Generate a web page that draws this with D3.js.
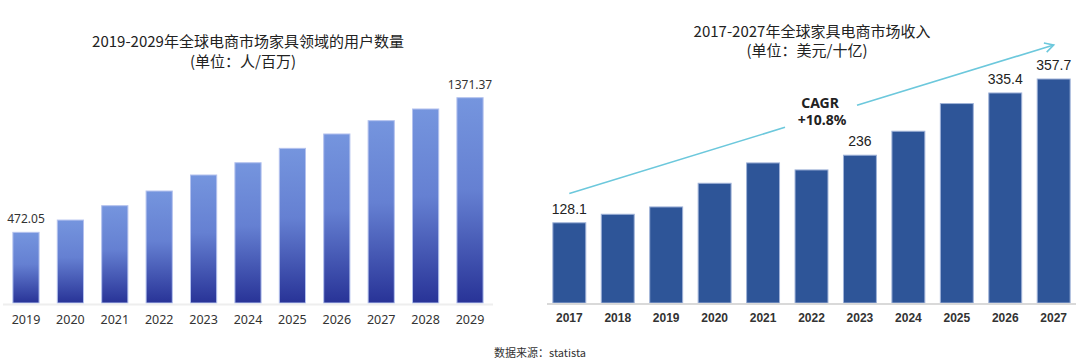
<!DOCTYPE html>
<html>
<head>
<meta charset="utf-8">
<script src="https://cdn.jsdelivr.net/npm/d3@7"></script>
<style>
  body { margin: 0; background: #fff; }
  svg { display: block; }
</style>
</head>
<body>
<div id="chart"></div>
<script>
// left chart: users (million)
const userYears = ["2019","2020","2021","2022","2023","2024","2025","2026","2027","2028","2029"];
const userValues = [472.05, 554, 650, 748, 855, 937, 1033, 1129, 1218, 1296, 1371.37];
const userLabeled = ["2019", "2029"];

// right chart: revenue (billion USD)
const revYears = ["2017","2018","2019","2020","2021","2022","2023","2024","2025","2026","2027"];
const revValues = [128.1, 141.7, 153.4, 191.2, 223.7, 212.5, 236, 274.3, 318.5, 335.4, 357.7];
const revLabeled = ["2017", "2023", "2026", "2027"];

// CAGR arrow, in data units (year, value)
const cagrArrow = [["2017", 175], ["2027", 412]];
const cagrText = ["CAGR", "+10.8%"];

const W = 1080, H = 362;
const svg = d3.select("#chart").append("svg")
    .attr("width", W).attr("height", H);

const cn = "'Noto Sans CJK SC', 'Noto Sans', sans-serif";

const defs = svg.append("defs");
const grad = defs.append("linearGradient")
    .attr("id", "barGrad").attr("x1", 0).attr("y1", 0).attr("x2", 0).attr("y2", 1);
grad.append("stop").attr("offset", "0%").attr("stop-color", "#7595de");
grad.append("stop").attr("offset", "45%").attr("stop-color", "#6580d2");
grad.append("stop").attr("offset", "100%").attr("stop-color", "#283397");

const baseY = 303;

// ---------- left chart ----------
let xL = d3.scaleBand().domain(userYears).range([4, 492]).paddingInner(0.41).paddingOuter(0.2);
let yL = d3.scaleLinear().domain([0, 1371.37]).range([baseY, 97.7]);

let gL = svg.append("g");
gL.append("text")
    .attr("x", 248).attr("y", 47)
    .attr("text-anchor", "middle")
    .attr("font-family", cn).attr("font-size", 15).attr("fill", "#222")
    .text("2019-2029年全球电商市场家具领域的用户数量");
gL.append("text")
    .attr("x", 243).attr("y", 67)
    .attr("text-anchor", "middle")
    .attr("font-family", cn).attr("font-size", 15).attr("fill", "#222")
    .text("(单位：人/百万)");

gL.selectAll(".bar").data(userValues).enter().append("rect")
    .attr("class", "bar")
    .attr("x", (d, i) => xL(userYears[i]))
    .attr("y", d => yL(d))
    .attr("width", xL.bandwidth())
    .attr("height", d => baseY - yL(d))
    .attr("fill", "url(#barGrad)")
    .attr("stroke", "#b4c2ee").attr("stroke-width", 1);

gL.append("line")
    .attr("x1", 3).attr("x2", 493).attr("y1", baseY + 1.5).attr("y2", baseY + 1.5)
    .attr("stroke", "#eeeeee").attr("stroke-width", 2);

let axL = gL.append("g")
    .attr("transform", "translate(0," + baseY + ")")
    .call(d3.axisBottom(xL).tickSize(0).tickPadding(12));
axL.select(".domain").remove();
axL.selectAll("text")
    .attr("font-family", "'Noto Sans', sans-serif").attr("font-size", 12.5).attr("fill", "#333");

gL.selectAll(".val").data(userYears.filter(y => userLabeled.includes(y))).enter().append("text")
    .attr("x", d => xL(d) + xL.bandwidth() / 2)
    .attr("y", d => yL(userValues[userYears.indexOf(d)]) - 9)
    .attr("text-anchor", "middle")
    .attr("font-family", "'Noto Sans', sans-serif").attr("font-size", 12).attr("fill", "#333")
    .text(d => userValues[userYears.indexOf(d)]);

// ---------- right chart ----------
let xR = d3.scaleBand().domain(revYears).range([548, 1075]).paddingInner(0.32).paddingOuter(0.1);
let yR = d3.scaleLinear().domain([0, 357.7]).range([baseY, 79]);

let gR = svg.append("g");
gR.append("text")
    .attr("x", 812).attr("y", 37)
    .attr("text-anchor", "middle")
    .attr("font-family", cn).attr("font-size", 15).attr("fill", "#222")
    .text("2017-2027年全球家具电商市场收入");
gR.append("text")
    .attr("x", 807).attr("y", 56)
    .attr("text-anchor", "middle")
    .attr("font-family", cn).attr("font-size", 15).attr("fill", "#222")
    .text("(单位：美元/十亿)");

gR.selectAll(".bar").data(revValues).enter().append("rect")
    .attr("class", "bar")
    .attr("x", (d, i) => xR(revYears[i]))
    .attr("y", d => yR(d))
    .attr("width", xR.bandwidth())
    .attr("height", d => baseY - yR(d))
    .attr("fill", "#2e5598")
    .attr("stroke", "#9fb2d8").attr("stroke-width", 1);

gR.append("line")
    .attr("x1", 547).attr("x2", 1076).attr("y1", baseY + 1).attr("y2", baseY + 1)
    .attr("stroke", "#d9d9d9").attr("stroke-width", 2);

let axR = gR.append("g")
    .attr("transform", "translate(0," + baseY + ")")
    .call(d3.axisBottom(xR).tickSize(0).tickPadding(10));
axR.select(".domain").remove();
axR.selectAll("text")
    .attr("font-family", "'Liberation Sans', Arial, sans-serif").attr("font-size", 12)
    .attr("font-weight", "bold").attr("fill", "#333");

gR.selectAll(".val").data(revYears.filter(y => revLabeled.includes(y))).enter().append("text")
    .attr("x", d => xR(d) + xR.bandwidth() / 2)
    .attr("y", d => yR(revValues[revYears.indexOf(d)]) - 9)
    .attr("text-anchor", "middle")
    .attr("font-family", "'Liberation Sans', Arial, sans-serif").attr("font-size", 14).attr("fill", "#222")
    .text(d => revValues[revYears.indexOf(d)]);

// CAGR arrow, split around the label
let ax0 = xR(cagrArrow[0][0]) + xR.bandwidth() / 2, ay0 = yR(cagrArrow[0][1]);
let ax1 = xR(cagrArrow[1][0]) + xR.bandwidth() / 2, ay1 = yR(cagrArrow[1][1]);
let at = x => ay0 + (ay1 - ay0) * (x - ax0) / (ax1 - ax0);
let gapA = 785, gapB = 857;
gR.append("line")
    .attr("x1", ax0).attr("y1", ay0).attr("x2", gapA).attr("y2", at(gapA))
    .attr("stroke", "#6cc8dc").attr("stroke-width", 1.6);
gR.append("line")
    .attr("x1", gapB).attr("y1", at(gapB)).attr("x2", ax1).attr("y2", ay1)
    .attr("stroke", "#6cc8dc").attr("stroke-width", 1.6);
let ang = Math.atan2(ay1 - ay0, ax1 - ax0);
let hl = 10;
gR.append("path")
    .attr("d", "M" + (ax1 - hl * Math.cos(ang - 0.5)) + "," + (ay1 - hl * Math.sin(ang - 0.5)) +
        "L" + ax1 + "," + ay1 +
        "L" + (ax1 - hl * Math.cos(ang + 0.5)) + "," + (ay1 - hl * Math.sin(ang + 0.5)))
    .attr("fill", "none").attr("stroke", "#6cc8dc").attr("stroke-width", 1.6);

gR.selectAll(".cagr").data(cagrText).enter().append("text")
    .attr("x", (d, i) => i === 0 ? 820 : 822)
    .attr("y", (d, i) => 108 + i * 17)
    .attr("text-anchor", "middle")
    .attr("font-family", "'Noto Sans', sans-serif").attr("font-size", 14)
    .attr("font-weight", "bold").attr("fill", "#222")
    .text(d => d);

// source
svg.append("text")
    .attr("x", 540).attr("y", 357)
    .attr("text-anchor", "middle")
    .attr("font-family", cn).attr("font-size", 11).attr("fill", "#333")
    .text("数据来源：statista");
</script>
</body>
</html>
